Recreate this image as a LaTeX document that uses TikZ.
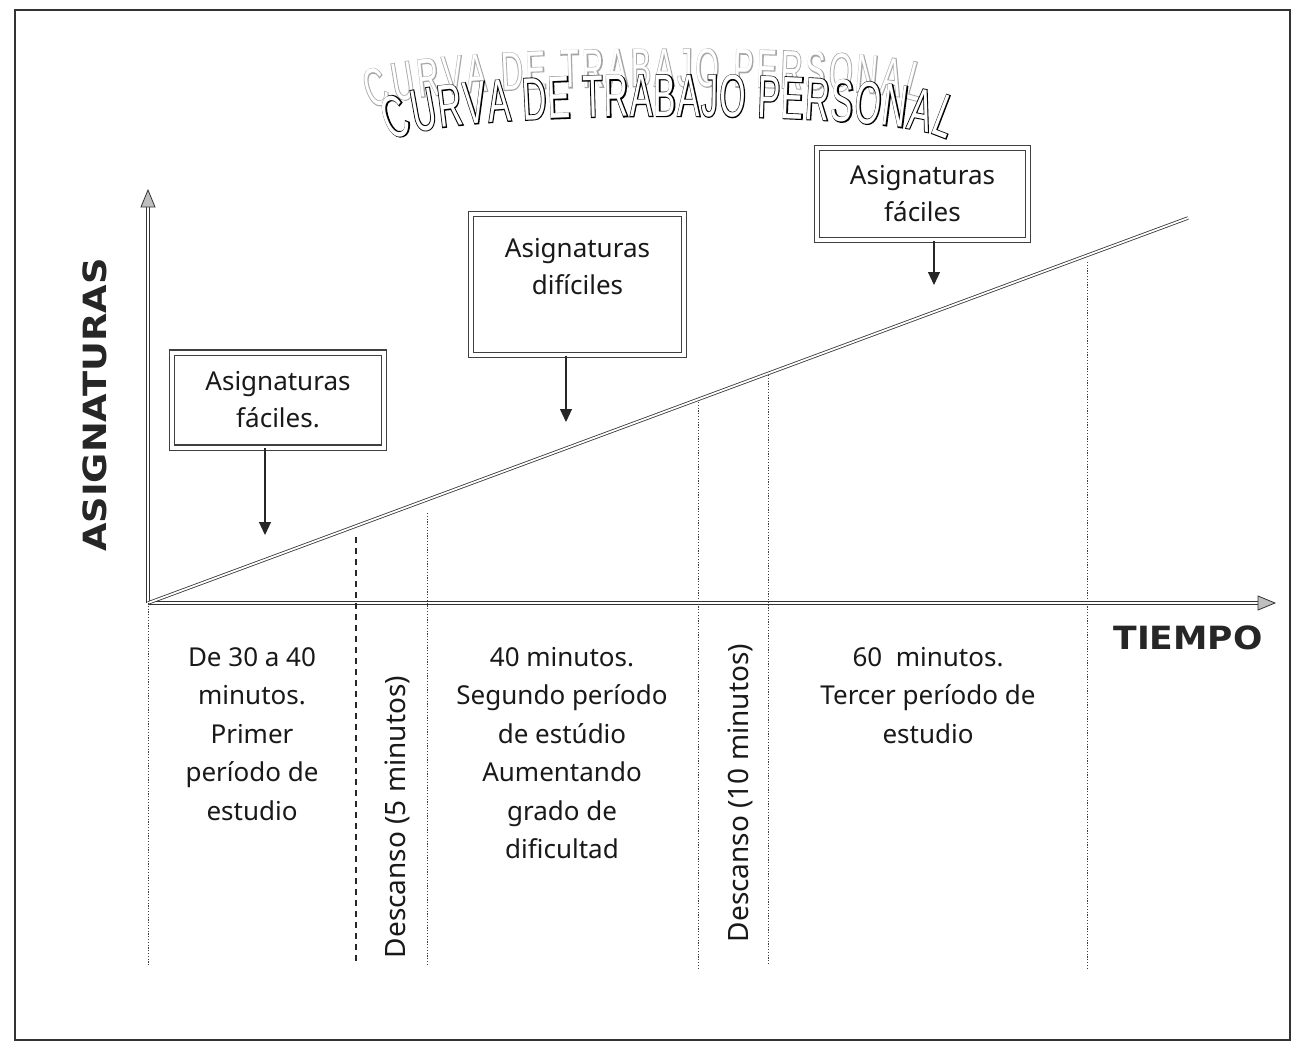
\documentclass[tikz,border=0pt]{standalone}
\usepackage{fontspec}
\setmainfont{Noto Sans}
\newfontfamily\headfont{DejaVu Sans}
\newfontfamily\titlefont[FakeStretch=0.56]{Liberation Sans}
\newfontfamily\titlefontbold[FakeStretch=0.56,FakeBold=3]{Liberation Sans}
\usetikzlibrary{arrows.meta,decorations.text}
\tikzset{
  boxnode/.style={draw=black!75, line width=1.1pt, double, double distance=4pt,
    align=center, font=\fontsize{26}{37}\selectfont, inner sep=0pt, text=black!90},
  darr/.style={-{Triangle[length=13pt,width=12pt]}, line width=1.1pt, black!85},
  axisline/.style={draw=black!80, line width=0.8pt, double, double distance=1.8pt},
  vdot/.style={black!75, line width=0.9pt, dash pattern=on 1.2pt off 1.6pt},
  vdash/.style={black!85, line width=1.3pt, dash pattern=on 6pt off 5pt},
  coltext/.style={font=\fontsize{26}{38.5}\selectfont, align=center, anchor=north, inner sep=0pt, text=black!90},
  rottext/.style={font=\fontsize{28}{28}\selectfont, rotate=90, inner sep=0pt, text=black!90},
  tipfill/.style={fill=black!25, draw=black!80, line width=0.8pt}
}
\begin{document}
\begin{tikzpicture}[x=1pt,y=-1pt]
\useasboundingbox (0,0) rectangle (1299,1050);
\fill[white] (0,0) rectangle (1299,1050);
% frame
\draw[line width=1.8pt, black!80] (15,10) rectangle (1290,1040);

% title shadow
\path[decorate, decoration={text along path, text align=fit to path,
  text={|\titlefontbold\fontsize{54}{54}\selectfont\color{black!35}|CURVA DE TRABAJO PERSONAL}}]
  (372,110) .. controls (400,80) and (880,80) .. (918,102);
\path[decorate, decoration={text along path, text align=fit to path,
  text={|\titlefont\fontsize{54}{54}\selectfont\color{white}|CURVA DE TRABAJO PERSONAL}}]
  (372,110) .. controls (400,80) and (880,80) .. (918,102);
% title
\path[decorate, decoration={text along path, text align=fit to path,
  text={|\titlefontbold\fontsize{60}{60}\selectfont\color{black}|CURVA DE TRABAJO PERSONAL}}]
  (392,142) .. controls (418,108) and (912,108) .. (946,140);
\path[decorate, decoration={text along path, text align=fit to path,
  text={|\titlefont\fontsize{60}{60}\selectfont\color{white}|CURVA DE TRABAJO PERSONAL}}]
  (392,142) .. controls (418,108) and (912,108) .. (946,140);

% axes
\coordinate (O) at (148,603);
\coordinate (Ytip) at (148,190);
\coordinate (Xtip) at (1275,603);
\coordinate (E) at (1188,218);
\draw[axisline] (O) -- (148,206);
\draw[tipfill] (Ytip) -- (141,207) -- (155,207) -- cycle;
\draw[axisline] (O) -- (1259,603);
\draw[tipfill] (Xtip) -- (1258,596) -- (1258,610) -- cycle;
% work curve
\draw[axisline] (O) -- (E);

% vertical separators
\draw[vdot] (O) -- (148,965);
\draw[vdash] (356,537) -- (356,965);
\draw[vdot] (427,513) -- (427,965);
\draw[vdot] (698,402) -- (698,970);
\draw[vdot] (768,375) -- (768,965);
\draw[vdot] (1087,262) -- (1087,968);

% boxes
\node[boxnode, minimum width=212pt, minimum height=95pt] (b1) at (278,400)
  {Asignaturas\\fáciles.};
\node[boxnode, minimum width=213pt, minimum height=141pt] (b2) at (577.5,284.5)
  {Asignaturas\\difíciles\\~};
\node[boxnode, minimum width=211pt, minimum height=92pt] (b3) at (922.5,194)
  {Asignaturas\\fáciles};

\coordinate (t1) at (265,535);
\coordinate (t2) at (566,422);
\coordinate (t3) at (934,285);
\draw[darr] (b1.south -| t1) -- (t1);
\draw[darr] (b2.south -| t2) -- (t2);
\draw[darr] (b3.south -| t3) -- (t3);

% axis labels
\node[rotate=90, font=\headfont\bfseries\fontsize{32}{32}\selectfont, text=black!85, inner sep=0pt]
  (ylab) at (95,405) {\scalebox{1.15}[1]{ASIGNATURAS}};
\node[font=\headfont\bfseries\fontsize{32}{32}\selectfont, text=black!85, inner sep=0pt]
  (xlab) at (1188,638) {\scalebox{1.08}[1]{TIEMPO}};

% column texts
\node[coltext] (c1) at (252,647) {De 30 a 40\\minutos.\\Primer\\período de\\estudio};
\node[rottext] (c2) at (397,817) {Descanso (5 minutos)};
\node[coltext] (c3) at (562,647) {40 minutos.\\Segundo período\\de estúdio\\Aumentando\\grado de\\dificultad};
\node[rottext] (c4) at (740,793) {Descanso (10 minutos)};
\node[coltext] (c5) at (928,647) {60~~minutos.\\Tercer período de\\estudio};
\end{tikzpicture}
\end{document}
